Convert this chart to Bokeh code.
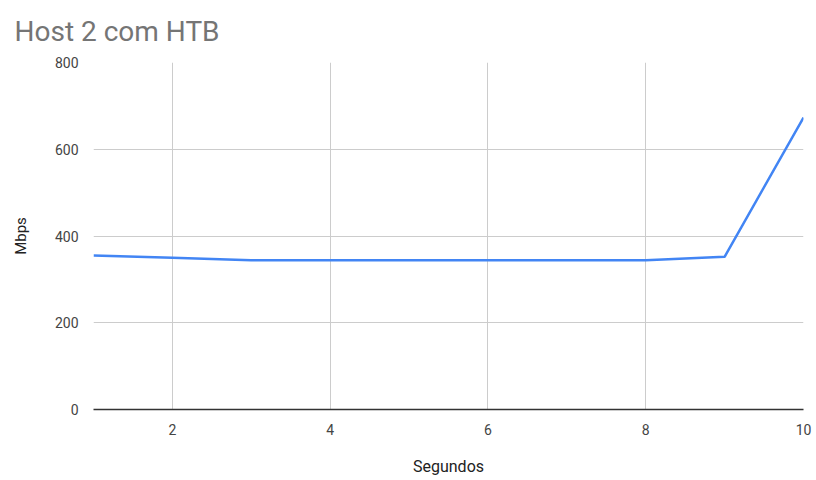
from bokeh.plotting import figure
from bokeh.models import ColumnDataSource, FixedTicker, Range1d
from bokeh.embed import file_html
from bokeh.resources import INLINE

# Throughput per second for host 2 under HTB shaping
segundos = [1, 2, 3, 4, 5, 6, 7, 8, 9, 10]
mbps = [355, 350, 344, 344, 344, 344, 344, 344, 352, 673]

x_ticks = [2, 4, 6, 8, 10]
y_ticks = [0, 200, 400, 600, 800]

source = ColumnDataSource(data=dict(x=segundos, y=mbps))

p = figure(
    width=816, height=480,
    output_backend="svg", toolbar_location=None,
    x_range=Range1d(1, 10), y_range=Range1d(0, 800),
    min_border_left=93, min_border_right=13,
    min_border_top=62, min_border_bottom=71,
)

p.title.text = "Host 2 com HTB"
p.title.text_font = "Roboto"
p.title.text_font_size = "28px"
p.title.text_font_style = "normal"
p.title.text_color = "#757575"
p.title.offset = -79
p.title.standoff = 26
p.title.vertical_align = "top"

p.line("x", "y", source=source, line_color="#4285F4", line_width=2.5)

p.outline_line_color = None
p.background_fill_color = "white"

p.xaxis.ticker = FixedTicker(ticks=x_ticks)
p.yaxis.ticker = FixedTicker(ticks=y_ticks)

for ax in (p.xaxis, p.yaxis):
    ax.major_tick_line_color = None
    ax.minor_tick_line_color = None
    ax.major_label_text_font = "Roboto"
    ax.major_label_text_font_size = "14px"
    ax.major_label_text_color = "#444444"
    ax.axis_label_text_font = "Roboto"
    ax.axis_label_text_font_size = "15px"
    ax.axis_label_text_font_style = "normal"
    ax.axis_label_text_color = "#222222"

p.xaxis.axis_label = "Segundos"
p.yaxis.axis_label = "Mbps"
p.xaxis.axis_label_text_font_size = "16px"
p.xaxis.axis_line_color = "#333333"
p.xaxis.axis_line_width = 1.5
p.yaxis.axis_line_color = None
p.xaxis.major_label_standoff = 8
p.yaxis.major_label_standoff = 9
p.xaxis.axis_label_standoff = 19
p.yaxis.axis_label_standoff = 22

p.xgrid.grid_line_color = "#cccccc"
p.ygrid.grid_line_color = "#cccccc"
p.xgrid.grid_line_width = 1
p.ygrid.grid_line_width = 1

open("out.html", "w").write(file_html(p, INLINE))
